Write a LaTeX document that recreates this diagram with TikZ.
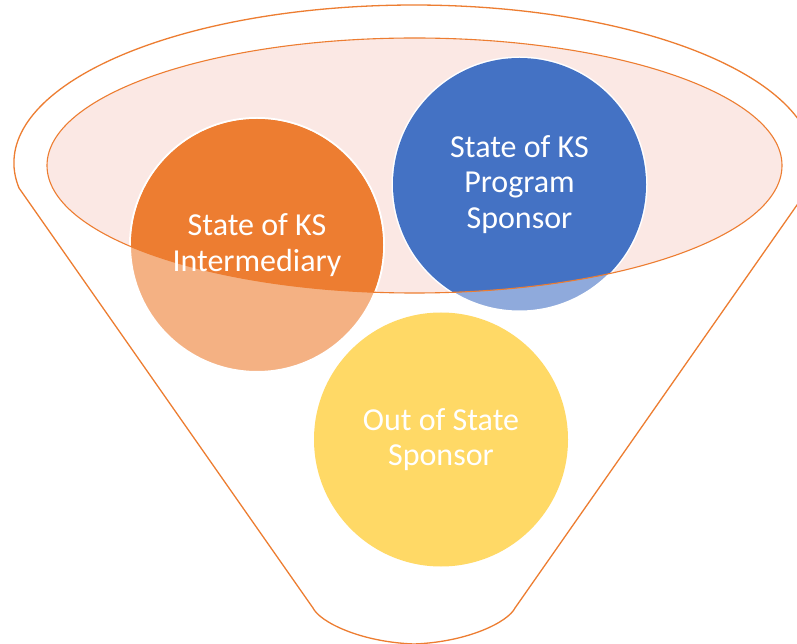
\documentclass[tikz,border=0pt]{standalone}
\usepackage{fontspec}
\setmainfont{Carlito}
\definecolor{fOrange}{HTML}{ED7D31}
\definecolor{fOrangeL}{HTML}{F4B183}
\definecolor{fBlue}{HTML}{4472C4}
\definecolor{fBlueL}{HTML}{8FAADC}
\definecolor{fYellow}{HTML}{FFD966}
\definecolor{fPink}{HTML}{FBE8E4}
\tikzset{
  funnelline/.style={draw=fOrange, line width=1.3pt},
  ball/.style={circle, minimum size=254pt, inner sep=0pt, draw=white, line width=2pt},
  balltext/.style={text=white, align=center, font=\fontsize{32}{35.5}\selectfont},
}
\begin{document}
\begin{tikzpicture}[x=1pt,y=1pt]
\useasboundingbox (0,0) rectangle (797,643);
\fill[white] (0,0) rectangle (797,643);
% funnel outline
\coordinate (jl) at (19,455);
\coordinate (jr) at (809,455);
\coordinate (bl) at (313,35);
\coordinate (br) at (515,35);
\coordinate (bm) at (414,-1);
\draw[funnelline] (jl) arc[start angle=189.1, end angle=-9.1, x radius=400pt, y radius=158pt]
  -- (br) .. controls (508,21) and (468,1) .. (bm)
  .. controls (360,1) and (320,21) .. (bl) -- cycle;
% inner ellipse fill
\coordinate (ec) at (414.5,477.5);
\fill[fPink] (ec) ellipse[x radius=367.5pt, y radius=127.5pt];
% circles (light parts)
\node[ball, fill=fYellow, draw=none] (yel) at (441,203.5) {};
\node[ball, fill=fOrangeL] (ora) at (257,398) {};
\node[ball, fill=fBlueL] (blu) at (519.5,458.5) {};
% dark parts inside the ellipse
\begin{scope}
  \clip (ec) ellipse[x radius=367.5pt, y radius=127.5pt];
  \fill[fOrange] (ora.center) circle[radius=126pt];
  \fill[fBlue] (blu.center) circle[radius=126.5pt];
\end{scope}
\draw[funnelline, line width=1.1pt] (ec) ellipse[x radius=367.5pt, y radius=127.5pt];
% texts
\node[balltext] at (ora.center) {State of KS\\Intermediary};
\node[balltext] at (blu.center) {State of KS\\Program\\Sponsor};
\node[balltext] at (yel.center) {Out of State\\Sponsor};
\end{tikzpicture}
\end{document}
